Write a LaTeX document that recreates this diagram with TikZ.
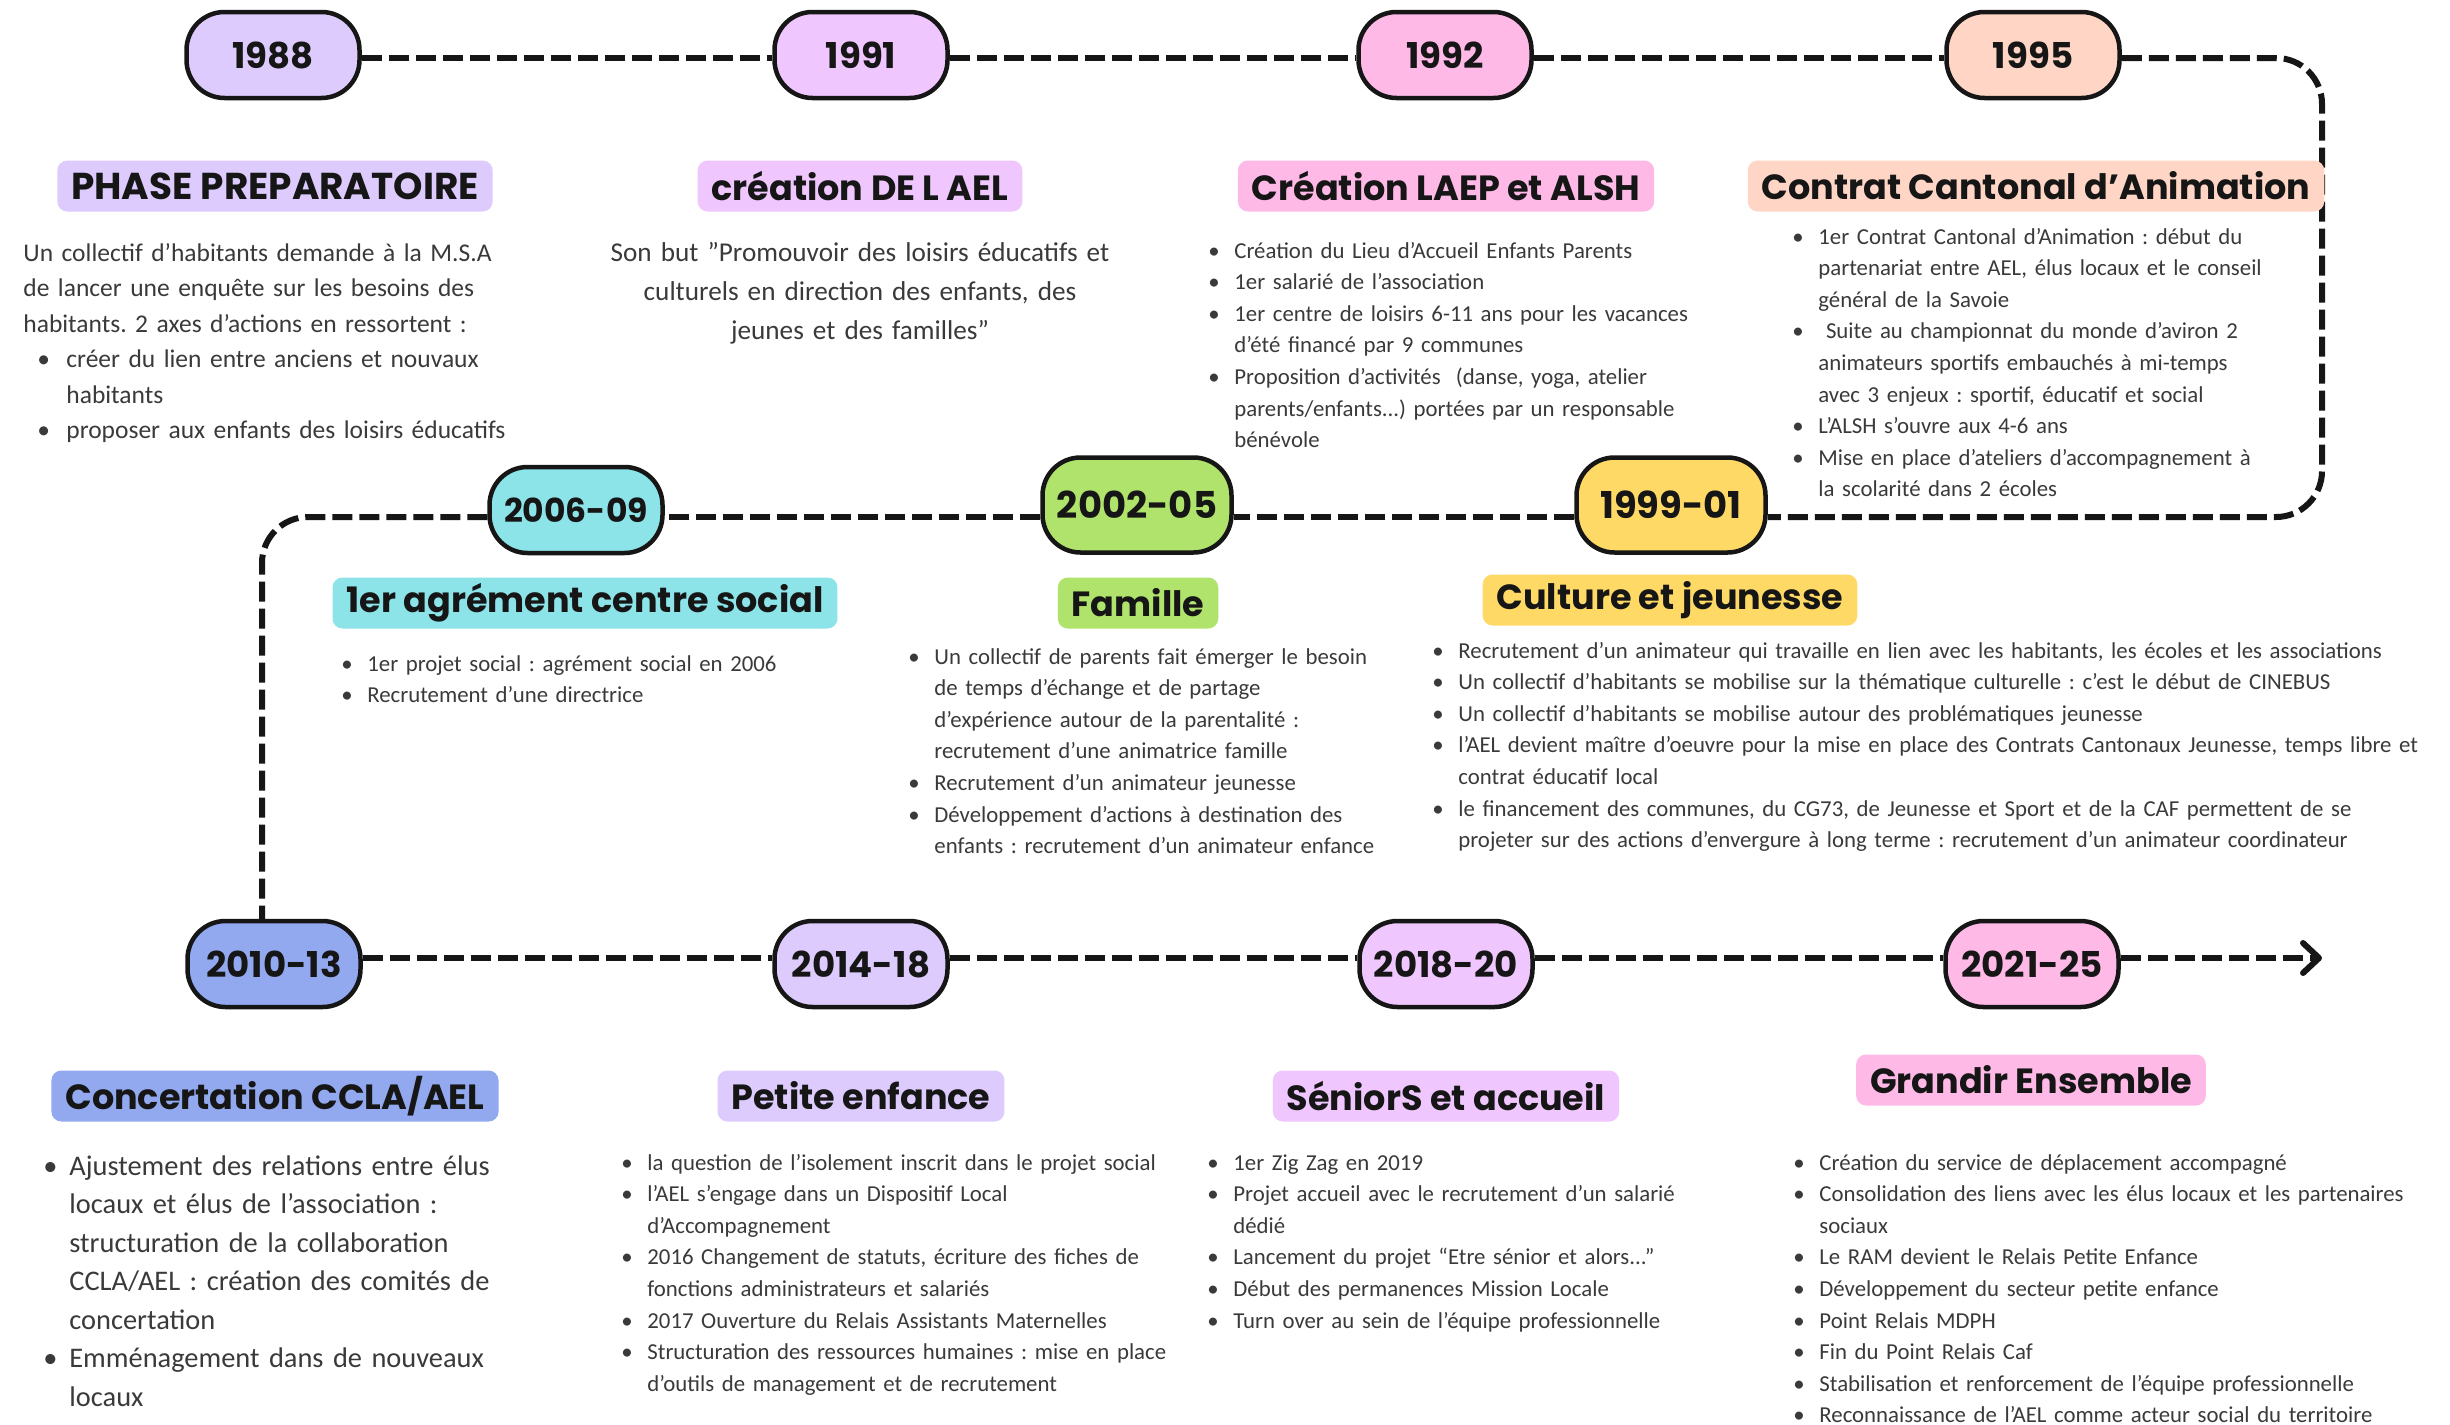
\documentclass[tikz,border=0pt]{standalone}
\usepackage{fontspec}
\setmainfont{Carlito}
\newfontfamily\headfont{Poppins}
\usetikzlibrary{arrows.meta,backgrounds}
\definecolor{clav}{HTML}{DCCBFC}
\definecolor{cvio}{HTML}{EFC6FD}
\definecolor{cpink}{HTML}{FEB9E6}
\definecolor{cpeach}{HTML}{FFD5C5}
\definecolor{ccyan}{HTML}{8CE3E8}
\definecolor{cgreen}{HTML}{AFE36B}
\definecolor{cyellow}{HTML}{FFD966}
\definecolor{cblue}{HTML}{92A9F0}
\definecolor{bodygray}{HTML}{3A3A3A}
\definecolor{ink}{HTML}{161616}
\frenchspacing
\newlength{\bi}\setlength{\bi}{10.5pt}
\newcommand{\bpt}[1]{\makebox[\bi][l]{\hspace*{-2.5pt}\textbullet}#1}
\newcommand{\cpt}[1]{\hspace*{\bi}#1}
\newcommand{\fsm}{\fontsize{11.4}{15.8}\selectfont}
\newcommand{\fmed}{\fontsize{12.75}{17.75}\selectfont}
\newcommand{\fbig}{\fontsize{13.6}{19.5}\selectfont}
\newcommand{\fcon}{\fontsize{14.2}{19.25}\selectfont}
\begin{document}
\begin{tikzpicture}[x=0.5pt,y=-0.5pt,
  year/.style={draw=ink, line width=2.25pt, rounded corners=19pt, minimum width=86.5pt, minimum height=43pt, inner sep=0pt, text=ink, font=\headfont\bfseries\fontsize{17.8}{20}\selectfont},
  yearbig/.style={year, minimum width=94.5pt, minimum height=47.5pt, font=\headfont\bfseries\fontsize{18.5}{22}\selectfont},
  head/.style={rounded corners=5pt, inner xsep=7pt, inner ysep=0pt, minimum height=25.5pt, text=ink, font=\headfont\bfseries\fontsize{17.5}{20}\selectfont},
  body/.style={anchor=base west, align=left, text width=540pt, inner sep=0pt, text=bodygray, font=\fsm},
  tl/.style={draw=ink, line width=3pt, dash pattern=on 10pt off 3.5pt}]
\useasboundingbox (0,0) rectangle (2450,1424);
% year nodes
\node[year, fill=clav] (y1988) at (273,55) {1988};
\node[year, fill=cvio] (y1991) at (861,55) {1991};
\node[year, fill=cpink] (y1992) at (1445,55) {1992};
\node[year, fill=cpeach] (y1995) at (2033,55) {1995};
\node[year, fill=ccyan, font=\headfont\bfseries\fontsize{16.5}{20}\selectfont] (y2006) at (576,510) {2006-09};
\node[yearbig, fill=cgreen] (y2002) at (1137,505) {2002-05};
\node[yearbig, fill=cyellow] (y1999) at (1671,505) {1999-01};
\node[year, fill=cblue] (y2010) at (274,964) {2010-13};
\node[year, fill=clav] (y2014) at (861,964) {2014-18};
\node[year, fill=cvio] (y2018) at (1446,964) {2018-20};
\node[year, fill=cpink] (y2021) at (2032,964) {2021-25};
% route coordinates
\coordinate (r1) at (0,58);
\coordinate (r2) at (0,517);
\coordinate (r3) at (0,958);
\coordinate (cRt) at (2322,58);
\coordinate (cRb) at (2322,517);
\coordinate (cL) at (262,517);
\coordinate (aend) at (2322,958);
\begin{scope}[on background layer]
\fill[white] (0,0) rectangle (2450,1424);
\draw[tl] (y1988.east |- r1) -- (y1991.west |- r1);
\draw[tl] (y1991.east |- r1) -- (y1992.west |- r1);
\draw[tl] (y1992.east |- r1) -- (y1995.west |- r1);
\draw[tl, rounded corners=23pt] (y1995.east |- r1) -- (cRt) -- (cRb) -- (y1999.east |- r2);
\draw[tl] (y1999.west |- r2) -- (y2002.east |- r2);
\draw[tl] (y2002.west |- r2) -- (y2006.east |- r2);
\draw[tl, rounded corners=23pt] (y2006.west |- r2) -- (cL) -- (cL |- y2010.north);
\draw[tl] (y2010.east |- r3) -- (y2014.west |- r3);
\draw[tl] (y2014.east |- r3) -- (y2018.west |- r3);
\draw[tl] (y2018.east |- r3) -- (y2021.west |- r3);
\draw[tl, -{Straight Barb[length=8pt, width=15pt, line width=3pt, round]}] (y2021.east |- r3) -- (aend);
\end{scope}
% headings
\node[head, fill=clav, font=\headfont\bfseries\fontsize{18.7}{20}\selectfont] (h1) at (275,186) {PHASE PREPARATOIRE};
\node[head, fill=cvio] (h2) at (860,186) {création DE L AEL};
\node[head, fill=cpink] (h3) at (1446,186) {Création LAEP et ALSH};
\node[head, fill=cpeach] (h4) at (2036,186) {Contrat Cantonal d’Animation};
\node[head, fill=ccyan] (h5) at (585,603) {1er agrément centre social};
\node[head, fill=cgreen] (h6) at (1138,603) {Famille};
\node[head, fill=cyellow] (h7) at (1670,600) {Culture et jeunesse};
\node[head, fill=cblue] (h8) at (275,1096) {Concertation CCLA/AEL};
\node[head, fill=clav] (h9) at (861,1096) {Petite enfance};
\node[head, fill=cvio] (h10) at (1446,1096) {SéniorS et accueil};
\node[head, fill=cpink] (h11) at (2031,1080) {Grandir Ensemble};
% body texts
\node[body, font={\fmed\setlength{\bi}{12pt}}] (t1988) at (23,261) {Un collectif d’habitants demande à la M.S.A\\
de lancer une enquête sur les besoins des\\
habitants. 2 axes d’actions en ressortent :\\
\hspace*{9.5pt}\bpt{créer du lien entre anciens et nouvaux}\\
\hspace*{9.5pt}\cpt{habitants}\\
\hspace*{9.5pt}\bpt{proposer aux enfants des loisirs éducatifs}};
\node[body, anchor=base, align=center, text width=320pt, font=\fbig] (t1991) at (860,261) {Son but ”Promouvoir des loisirs éducatifs et\\
culturels en direction des enfants, des\\
jeunes et des familles”};
\node[body] (t1992) at (1213,258) {\bpt{Création du Lieu d’Accueil Enfants Parents}\\
\bpt{1er salarié de l’association}\\
\bpt{1er centre de loisirs 6-11 ans pour les vacances}\\
\cpt{d’été financé par 9 communes}\\
\bpt{Proposition d’activités~ (danse, yoga, atelier}\\
\cpt{parents/enfants...) portées par un responsable}\\
\cpt{bénévole}};
\node[body] (t1995) at (1797,244) {\bpt{1er Contrat Cantonal d’Animation : début du}\\
\cpt{partenariat entre AEL, élus locaux et le conseil}\\
\cpt{général de la Savoie}\\
\bpt{\ Suite au championnat du monde d’aviron 2}\\
\cpt{animateurs sportifs embauchés à mi-temps}\\
\cpt{avec 3 enjeux : sportif, éducatif et social}\\
\bpt{L’ALSH s’ouvre aux 4-6 ans}\\
\bpt{Mise en place d’ateliers d’accompagnement à}\\
\cpt{la scolarité dans 2 écoles}};
\node[body] (t2006) at (346,671) {\bpt{1er projet social : agrément social en 2006}\\
\bpt{Recrutement d’une directrice}};
\node[body] (t2002) at (913,664) {\bpt{Un collectif de parents fait émerger le besoin}\\
\cpt{de temps d’échange et de partage}\\
\cpt{d’expérience autour de la parentalité :}\\
\cpt{recrutement d’une animatrice famille}\\
\bpt{Recrutement d’un animateur jeunesse}\\
\bpt{Développement d’actions à destination des}\\
\cpt{enfants : recrutement d’un animateur enfance}};
\node[body] (t1999) at (1437,658) {\bpt{Recrutement d’un animateur qui travaille en lien avec les habitants, les écoles et les associations}\\
\bpt{Un collectif d’habitants se mobilise sur la thématique culturelle : c’est le début de CINEBUS}\\
\bpt{Un collectif d’habitants se mobilise autour des problématiques jeunesse}\\
\bpt{l’AEL devient maître d’oeuvre pour la mise en place des Contrats Cantonaux Jeunesse, temps libre et}\\
\cpt{contrat éducatif local}\\
\bpt{le financement des communes, du CG73, de Jeunesse et Sport et de la CAF permettent de se}\\
\cpt{projeter sur des actions d’envergure à long terme : recrutement d’un animateur coordinateur}};
\node[body, font=\fcon] (t2010) at (48,1175) {\bpt{Ajustement des relations entre élus}\\
\cpt{locaux et élus de l’association :}\\
\cpt{structuration de la collaboration}\\
\cpt{CCLA/AEL : création des comités de}\\
\cpt{concertation}\\
\bpt{Emménagement dans de nouveaux}\\
\cpt{locaux}};
\node[body] (t2014) at (626,1170) {\bpt{la question de l’isolement inscrit dans le projet social}\\
\bpt{l’AEL s’engage dans un Dispositif Local}\\
\cpt{d’Accompagnement}\\
\bpt{2016 Changement de statuts, écriture des fiches de}\\
\cpt{fonctions administrateurs et salariés}\\
\bpt{2017 Ouverture du Relais Assistants Maternelles}\\
\bpt{Structuration des ressources humaines : mise en place}\\
\cpt{d’outils de management et de recrutement}};
\node[body] (t2018) at (1212,1170) {\bpt{1er Zig Zag en 2019}\\
\bpt{Projet accueil avec le recrutement d’un salarié}\\
\cpt{dédié}\\
\bpt{Lancement du projet “Etre sénior et alors...”}\\
\bpt{Début des permanences Mission Locale}\\
\bpt{Turn over au sein de l’équipe professionnelle}};
\node[body] (t2021) at (1798,1170) {\bpt{Création du service de déplacement accompagné}\\
\bpt{Consolidation des liens avec les élus locaux et les partenaires}\\
\cpt{sociaux}\\
\bpt{Le RAM devient le Relais Petite Enfance}\\
\bpt{Développement du secteur petite enfance}\\
\bpt{Point Relais MDPH}\\
\bpt{Fin du Point Relais Caf}\\
\bpt{Stabilisation et renforcement de l’équipe professionnelle}\\
\bpt{Reconnaissance de l’AEL comme acteur social du territoire}};
\end{tikzpicture}
\end{document}
